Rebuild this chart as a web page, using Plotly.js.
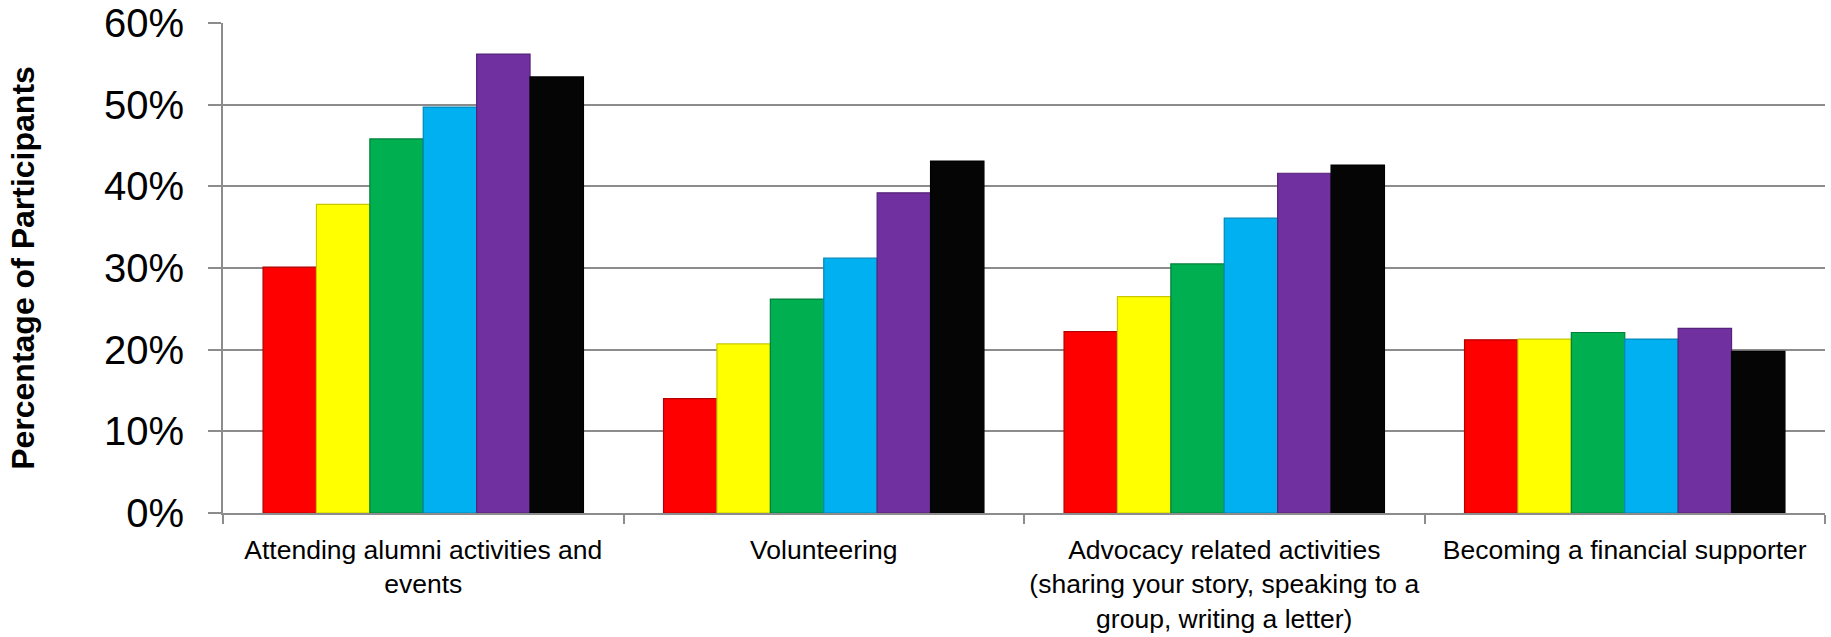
<!DOCTYPE html>
<html>
<head>
<meta charset="utf-8">
<script src="https://cdn.plot.ly/plotly-3.0.1.min.js"></script>
<style>
  html, body { margin: 0; padding: 0; background: #ffffff; }
  #chart { width: 1831px; height: 637px; }
</style>
</head>
<body>
<div id="chart"></div>
<script>
// Categories (x axis tick labels)
const categories = [
  "Attending alumni activities and<br>events",
  "Volunteering",
  "Advocacy related activities<br>(sharing your story, speaking to a<br>group, writing a letter)",
  "Becoming a financial supporter"
];

// Series values (fraction of participants), one array per series
const seriesNames = ["Series 1", "Series 2", "Series 3", "Series 4", "Series 5", "Series 6"];
const series1 = [0.301, 0.140, 0.222, 0.212];
const series2 = [0.378, 0.207, 0.265, 0.213];
const series3 = [0.458, 0.262, 0.305, 0.221];
const series4 = [0.497, 0.312, 0.361, 0.213];
const series5 = [0.562, 0.392, 0.416, 0.226];
const series6 = [0.534, 0.431, 0.426, 0.198];
const seriesValues = [series1, series2, series3, series4, series5, series6];

// Colours
const seriesColors = ["#ff0000", "#ffff00", "#00b050", "#00b0f0", "#7030a0", "#050505"];
const seriesOutline = ["#b30000", "#c8c800", "#00803a", "#0088ba", "#552379", "#000000"];

// Y axis ticks
const yTickVals = [0, 0.1, 0.2, 0.3, 0.4, 0.5, 0.6];
const yTickText = ["0%", "10%", "20%", "30%", "40%", "50%", "60%"];

const traces = seriesValues.map((vals, i) => ({
  type: "bar",
  name: seriesNames[i],
  x: categories,
  y: vals,
  marker: {
    color: seriesColors[i],
    line: { color: seriesOutline[i], width: 1.2 }
  },
  hoverinfo: "x+y"
}));

const gridGray = "#8c8c8c";

const layout = {
  width: 1831,
  height: 637,
  margin: { l: 223, r: 6, t: 23, b: 124 },
  paper_bgcolor: "#ffffff",
  plot_bgcolor: "#ffffff",
  showlegend: false,
  barmode: "group",
  bargap: 0.2,
  bargroupgap: 0,
  font: { family: "Liberation Sans, Arial, sans-serif", color: "#000000" },
  xaxis: {
    type: "category",
    tickson: "boundaries",
    ticks: "outside",
    ticklen: 9,
    tickwidth: 2,
    tickcolor: gridGray,
    tickangle: 0,
    showline: true,
    linecolor: gridGray,
    linewidth: 2,
    showgrid: false,
    zeroline: false,
    tickfont: { family: "Liberation Sans, Arial, sans-serif", size: 26.5, color: "#000000" },
    ticklabelstandoff: 12,
    automargin: false
  },
  yaxis: {
    range: [0, 0.6],
    tickvals: yTickVals,
    ticktext: yTickText,
    ticks: "outside",
    ticklen: 13,
    tickwidth: 2,
    tickcolor: gridGray,
    showline: true,
    linecolor: gridGray,
    linewidth: 2,
    showgrid: true,
    gridcolor: gridGray,
    gridwidth: 2,
    zeroline: false,
    tickfont: { family: "Liberation Sans, Arial, sans-serif", size: 40, color: "#000000" },
    ticklabelstandoff: 16,
    automargin: false,
    title: {
      text: "<b>Percentage of Participants</b>",
      font: { family: "Liberation Sans, Arial, sans-serif", size: 32, color: "#000000" },
      standoff: 60
    }
  }
};

Plotly.newPlot("chart", traces, layout, { displayModeBar: false, staticPlot: false });
</script>
</body>
</html>
